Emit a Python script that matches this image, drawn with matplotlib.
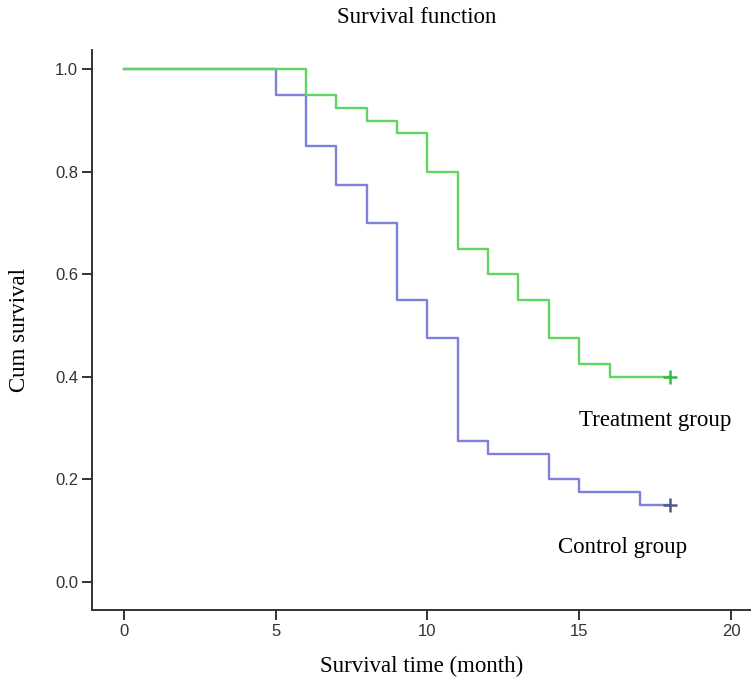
import numpy as np
import matplotlib
matplotlib.use("Agg")
import matplotlib.pyplot as plt

# --------------- Data ---------------
treat_time = [0, 6, 7, 8, 9, 10, 11, 12, 13, 14, 15, 16, 18]
treat_surv = [1.0, 0.95, 0.925, 0.90, 0.875, 0.80, 0.65, 0.60, 0.55, 0.475, 0.425, 0.40, 0.40]
ctrl_time = [0, 5, 6, 7, 8, 9, 10, 11, 12, 14, 15, 17, 18]
ctrl_surv = [1.0, 0.95, 0.85, 0.775, 0.70, 0.55, 0.475, 0.275, 0.25, 0.20, 0.175, 0.15, 0.15]
censor_time = 18
x_ticks = [0, 5, 10, 15, 20]
y_ticks = [0.0, 0.2, 0.4, 0.6, 0.8, 1.0]

green = "#62d462"
blue = "#7f7fdc"
serif = "Liberation Serif"
fs = 16.5

fig = plt.figure(figsize=(7.51, 6.8), dpi=100)
ax = fig.add_axes([0.1225, 0.103, 0.8775, 0.823])

# control first so the treatment curve sits on top (as in the original)
ax.step(ctrl_time, ctrl_surv, where="post", color=blue, lw=1.7, zorder=2)
ax.step(treat_time, treat_surv, where="post", color=green, lw=1.7, zorder=3)
ax.plot(censor_time, treat_surv[-1], marker="+", ms=10, mew=1.8, color="#33bb44", zorder=4)
ax.plot(censor_time, ctrl_surv[-1], marker="+", ms=10, mew=1.8, color="#4a5a8c", zorder=4)

ax.text(15.0, 0.314, "Treatment group", family=serif, fontsize=fs, va="center")
ax.text(14.3, 0.068, "Control group", family=serif, fontsize=fs, va="center")

ax.set_xlim(-1.05, 20.66)
ax.set_ylim(-0.0546, 1.037)
ax.set_xticks(x_ticks)
ax.set_yticks(y_ticks)
ax.set_yticklabels(["%.1f" % v for v in y_ticks])
for s in ["top", "right"]:
    ax.spines[s].set_visible(False)
for s in ["left", "bottom"]:
    ax.spines[s].set_color("#333333")
    ax.spines[s].set_linewidth(1.4)
ax.tick_params(direction="out", length=7, width=1.4, color="#333333",
               labelsize=12, labelcolor="#333333", pad=3)
for lab in ax.get_xticklabels() + ax.get_yticklabels():
    lab.set_family("Liberation Sans")

ax.set_xlabel("Survival time (month)", family=serif, fontsize=fs, labelpad=12)
ax.set_ylabel("Cum survival", family=serif, fontsize=fs, labelpad=18)
fig.text(0.5546, 0.974, "Survival function", family=serif, fontsize=fs,
         ha="center", va="center")

fig.savefig("out.png", dpi=100)
